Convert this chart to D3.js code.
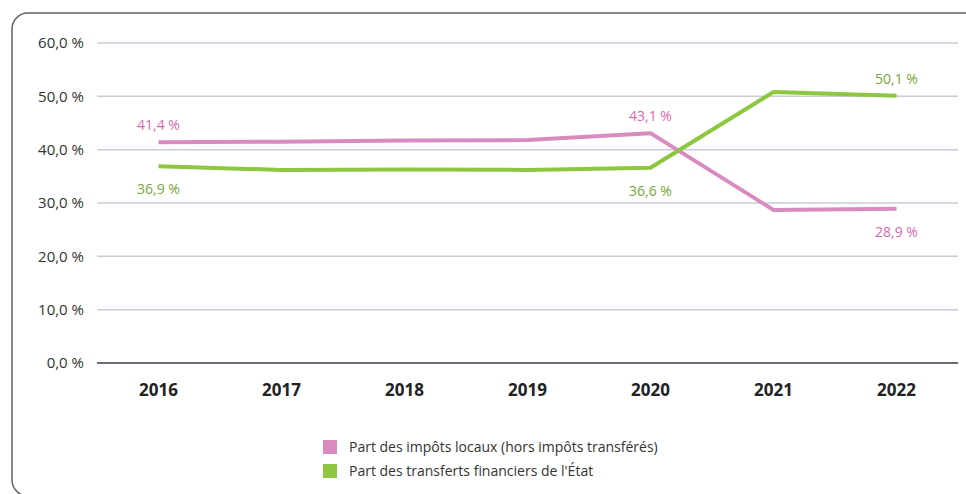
<!DOCTYPE html>
<html>
<head>
<meta charset="utf-8">
<script src="https://cdn.jsdelivr.net/npm/d3@7"></script>
<style>
  body { margin: 0; background: #fff; }
  text { font-family: "Open Sans", "DejaVu Sans", sans-serif; }
</style>
</head>
<body>
<div id="chart"></div>
<script>
// data
var years = ["2016", "2017", "2018", "2019", "2020", "2021", "2022"];
var impotsLocaux = [41.4, 41.5, 41.7, 41.8, 43.1, 28.7, 28.9];
var transfertsEtat = [36.9, 36.2, 36.3, 36.2, 36.6, 50.8, 50.1];
var yTicks = [0, 10, 20, 30, 40, 50, 60];
var seriesNames = ["Part des impôts locaux (hors impôts transférés)", "Part des transferts financiers de l'État"];
// which points get a label, and where (1 = above, -1 = below)
var pinkLabels = [[0, 1], [4, 1], [6, -1]];
var greenLabels = [[0, -1], [4, -1], [6, 1]];

var svgWidth = 966, svgHeight = 494;
var margin = {top: 43, right: 8, bottom: 131, left: 97};
var width = svgWidth - margin.left - margin.right;
var height = svgHeight - margin.top - margin.bottom;

var svg = d3.select("#chart").append("svg")
  .attr("width", svgWidth)
  .attr("height", svgHeight);

// frame (right and bottom edges fall just outside the picture)
svg.append("rect")
  .attr("x", 12).attr("y", 13)
  .attr("width", 990).attr("height", 483)
  .attr("rx", 16).attr("ry", 16)
  .attr("fill", "none")
  .attr("stroke", "#5d6270")
  .attr("stroke-width", 1.5);

var chartGroup = svg.append("g")
  .attr("transform", `translate(${margin.left}, ${margin.top})`);

var xScale = d3.scaleBand().domain(years).range([0, width]);
var yScale = d3.scaleLinear().domain([0, 60]).range([height, 0]);
var fmt = function(v) { return v.toFixed(1).replace(".", ",") + " %"; };

// gridlines
chartGroup.selectAll(".grid")
  .data(yTicks.filter(function(d) { return d > 0; }))
  .enter().append("line")
  .attr("x1", 0).attr("x2", width)
  .attr("y1", function(d) { return yScale(d); })
  .attr("y2", function(d) { return yScale(d); })
  .attr("stroke", "#c9ccd8")
  .attr("stroke-width", 1.5);

// y axis labels
var leftAxis = d3.axisLeft(yScale).tickValues(yTicks).tickFormat(fmt).tickSize(0).tickPadding(13);
var yAxisG = chartGroup.append("g").call(leftAxis);
yAxisG.select(".domain").remove();
yAxisG.selectAll("text")
  .attr("font-size", 15)
  .attr("fill", "#333")
  .style("font-family", "Open Sans, sans-serif");

// baseline
chartGroup.append("line")
  .attr("x1", 0).attr("x2", width)
  .attr("y1", height).attr("y2", height)
  .attr("stroke", "#6b6f7c")
  .attr("stroke-width", 2);

// x axis
var bottomAxis = d3.axisBottom(xScale).tickSize(0).tickPadding(21);
var xAxisG = chartGroup.append("g")
  .attr("transform", `translate(0, ${height})`)
  .call(bottomAxis);
xAxisG.select(".domain").remove();
xAxisG.selectAll("text")
  .attr("font-size", 17)
  .attr("font-weight", "bold")
  .attr("fill", "#222")
  .style("font-family", "Open Sans, sans-serif");

var cx = function(i) { return xScale(years[i]) + xScale.bandwidth() / 2; };
var line = d3.line()
  .x(function(d, i) { return cx(i); })
  .y(function(d) { return yScale(d); });

var series = [
  {values: impotsLocaux, color: "#d98bbf", text: "#d868b0", labels: pinkLabels},
  {values: transfertsEtat, color: "#8dc63f", text: "#76a63a", labels: greenLabels}
];

series.forEach(function(s) {
  chartGroup.append("path")
    .datum(s.values)
    .attr("fill", "none")
    .attr("stroke", s.color)
    .attr("stroke-width", 4)
    .attr("stroke-linejoin", "round")
    .attr("d", line);

  chartGroup.selectAll(null)
    .data(s.labels)
    .enter().append("text")
    .attr("x", function(d) { return cx(d[0]); })
    .attr("y", function(d) { return yScale(s.values[d[0]]) + (d[1] > 0 ? -12 : 28); })
    .attr("text-anchor", "middle")
    .attr("font-size", 14)
    .attr("fill", s.text)
    .text(function(d) { return fmt(s.values[d[0]]); });
});

// legend
var legend = svg.append("g").attr("transform", "translate(323, 440)");
var legendColors = ["#d98bbf", "#8dc63f"];
seriesNames.forEach(function(name, i) {
  var g = legend.append("g").attr("transform", `translate(0, ${i * 24})`);
  g.append("rect").attr("width", 14).attr("height", 14).attr("fill", legendColors[i]);
  g.append("text")
    .attr("x", 26).attr("y", 12)
    .attr("font-size", 14)
    .attr("fill", "#333")
    .text(name);
});
</script>
</body>
</html>
